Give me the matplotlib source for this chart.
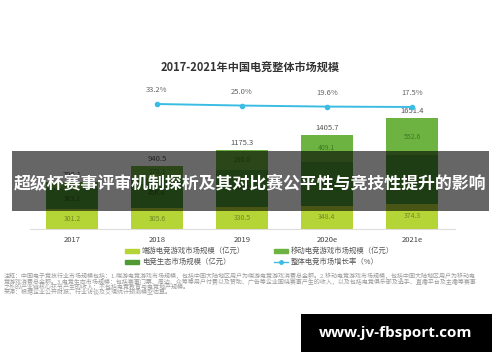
import matplotlib
matplotlib.use("Agg")
import matplotlib.pyplot as plt
from matplotlib.patches import Rectangle
from matplotlib.lines import Line2D

plt.rcParams['font.family'] = ['Noto Sans CJK SC', 'DejaVu Sans']

years = ["2017", "2018", "2019", "2020e", "2021e"]
pc_game = [301.2, 305.6, 330.5, 348.4, 374.3]
ecosystem = [303.2, 456.8, 554.8, 648.2, 724.5]
mobile_game = [101.7, 178.1, 290.0, 409.1, 552.6]
totals = [706.1, 940.5, 1175.3, 1405.7, 1651.4]
growth_years = ["2018", "2019", "2020e", "2021e"]
growth = [33.2, 25.0, 19.6, 17.5]

title = "2017-2021年中国电竞整体市场规模"
legend_labels = ["端游电竞游戏市场规模（亿元）", "移动电竞游戏市场规模（亿元）",
                 "电竞生态市场规模（亿元）", "整体电竞市场增长率（%）"]
notes = [
    "注释：中国电子竞技行业市场规模包括：1.端游电竞游戏市场规模，包括中国大陆地区用户为端游电竞游戏消费总金额。2.移动电竞游戏市场规模，包括中国大陆地区用户为移动电",
    "竞游戏消费总金额。3.电竞生态市场规模：包括赛事门票、周边、众筹等用户付费以及赞助、广告等企业围绕赛事产生的收入，以及包括电竞俱乐部及选手、直播平台及主播等赛事",
    "之外的产业链核心环节产生的收入；不包括电竞教育与电竞地产规模。",
    "来源：根据企业公开财报、行业访谈及艾瑞统计预测模型估算。",
]
banner_text = "超级杯赛事评审机制探析及其对比赛公平性与竞技性提升的影响"
watermark = "www.jv-fbsport.com"

c_pc = "#b5d435"
c_eco = "#4f9a33"
c_mob = "#6cb341"
c_line = "#3bbde3"

W, H = 500, 362
fig = plt.figure(figsize=(5, 3.62), dpi=100)
fig.patch.set_facecolor("white")

def fx(px):
    return px / W
def fy(py):
    return 1 - py / H

left, right = 30, 455
bottom_px, top_px = 229, 60
ax = fig.add_axes([fx(left), fy(bottom_px), fx(right - left), (bottom_px - top_px) / H])
x = list(range(len(years)))
xmin = -(72 - left) / 85
xmax = xmin + (right - left) / 85
ax.set_xlim(xmin, xmax)
ymax = (bottom_px - top_px) / 0.0672
ax.set_ylim(0, ymax)

bw = 0.62
ax.bar(x, pc_game, bw, color=c_pc, zorder=2)
bot2 = pc_game
ax.bar(x, ecosystem, bw, bottom=bot2, color=c_eco, zorder=2)
bot3 = [a + b for a, b in zip(pc_game, ecosystem)]
ax.bar(x, mobile_game, bw, bottom=bot3, color=c_mob, zorder=2)

for i in x:
    ax.text(i, pc_game[i] / 2, f"{pc_game[i]:.1f}", ha="center", va="center",
            fontsize=5, color="#6f8a2a", zorder=3)
    ax.text(i, bot2[i] + ecosystem[i] / 2, f"{ecosystem[i]:.1f}", ha="center", va="center",
            fontsize=5, color="#2e5e1e", zorder=3)
    ax.text(i, bot3[i] + mobile_game[i] / 2, f"{mobile_game[i]:.1f}", ha="center", va="center",
            fontsize=5, color="#3f7a25", zorder=3)
    ax.annotate(f"{totals[i]:.1f}", (i, totals[i]), xytext=(0, 2), textcoords="offset points",
                ha="center", va="bottom", fontsize=5.5, color="#555555", zorder=3)

for s in ["top", "right", "left"]:
    ax.spines[s].set_visible(False)
ax.spines["bottom"].set_color("#dddddd")
ax.spines["bottom"].set_linewidth(0.8)
ax.set_yticks([])
ax.set_xticks(x)
ax.set_xticklabels(years, fontsize=5.5, color="#444444")
ax.tick_params(axis="x", length=0, pad=5)
ax.patch.set_alpha(0)

ax2 = ax.twinx()
ax2.set_ylim(-621.4, 263.6)
ax2.axis("off")
gx = [years.index(y) for y in growth_years]
ax2.plot(gx, growth, color=c_line, lw=1.4, marker="o", markersize=3, zorder=4)
for xi, g in zip(gx, growth):
    ax2.annotate(f"{g:.1f}%", (xi, g), xytext=(0, 7), textcoords="offset points",
                 ha="center", va="bottom", fontsize=5.5, color="#666666")

fig.text(0.5, fy(68), title, ha="center", va="center", fontsize=8.0,
         fontweight="bold", color="#333333")

leg_items = [
    (125, 251, c_pc, legend_labels[0], "patch"),
    (274, 251, c_mob, legend_labels[1], "patch"),
    (125, 262, c_eco, legend_labels[2], "patch"),
    (274, 262, c_line, legend_labels[3], "line"),
]
for lx, ly, col, lab, kind in leg_items:
    if kind == "patch":
        fig.patches.append(Rectangle((fx(lx), fy(ly + 2)), fx(14), 4 / H,
                                     transform=fig.transFigure, color=col))
    else:
        fig.lines.append(Line2D([fx(lx), fx(lx + 14)], [fy(ly), fy(ly)],
                                transform=fig.transFigure, color=col, lw=1))
        fig.lines.append(Line2D([fx(lx + 7)], [fy(ly)], transform=fig.transFigure,
                                color=col, marker="o", markersize=2.5))
    fig.text(fx(lx + 17), fy(ly), lab, ha="left", va="center", fontsize=5.3, color="#555555")

for k, line in enumerate(notes):
    fig.text(fx(4), fy(276 + k * 5.4), line, ha="left", va="center", fontsize=4.3,
             color="#9a9a9a")

fig.patches.append(Rectangle((fx(12), fy(211)), fx(477), 60 / H, transform=fig.transFigure,
                             facecolor="black", alpha=0.6, zorder=10))
fig.text(0.5, fy(183), banner_text, ha="center", va="center", fontsize=12.2,
         fontweight="bold", color="white", zorder=11)

fig.patches.append(Rectangle((fx(301), fy(352)), fx(191), 38 / H, transform=fig.transFigure,
                             facecolor="black", zorder=10))
fig.text(fx(396), fy(333), watermark, ha="center", va="center", fontsize=11,
         fontweight="bold", color="white", family=["Open Sans", "DejaVu Sans"], zorder=11)

fig.savefig("out.png", dpi=100)
